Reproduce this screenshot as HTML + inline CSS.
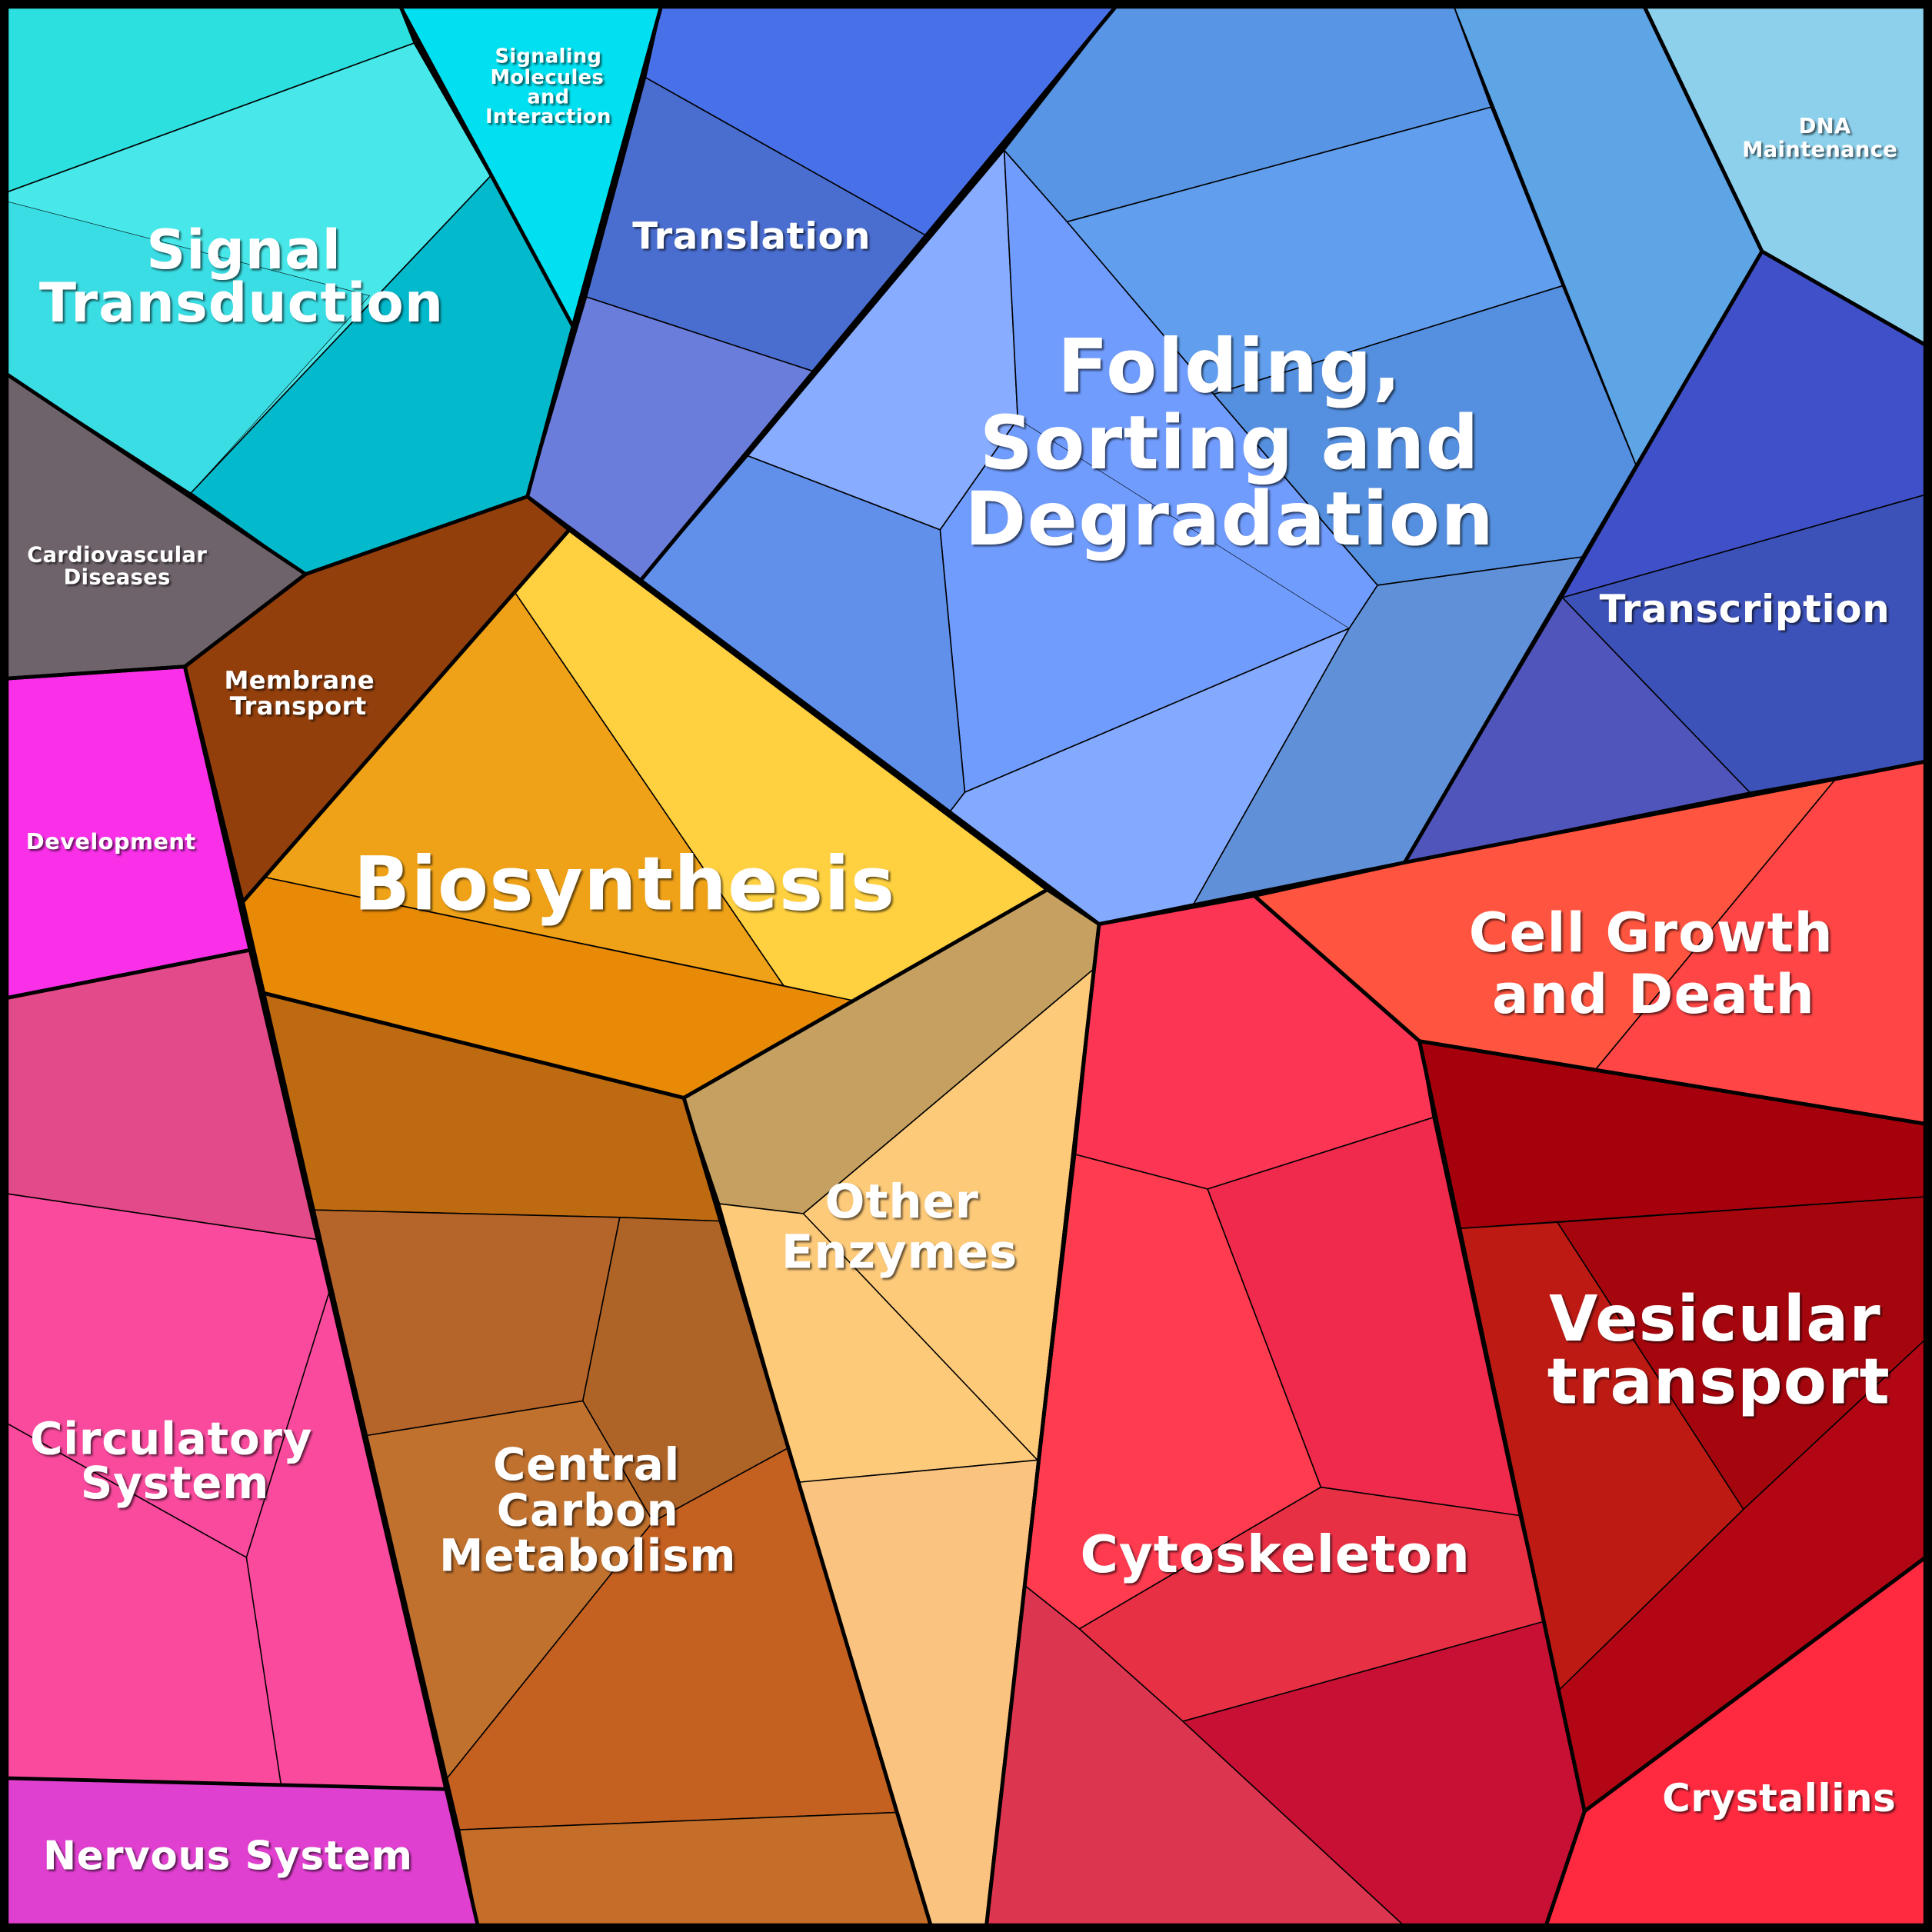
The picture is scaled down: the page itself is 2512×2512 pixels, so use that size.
<!DOCTYPE html>
<html><head><meta charset="utf-8"><style>
html,body{margin:0;padding:0;background:#000}
svg{display:block}
text{font-family:"DejaVu Sans","Liberation Sans",sans-serif;font-weight:bold;text-anchor:middle;fill:#fff;letter-spacing:0.015em}
</style></head><body>
<svg width="2512" height="2512" viewBox="0 0 1568 1568" xmlns="http://www.w3.org/2000/svg">
<defs><filter id="ds" x="-10%" y="-10%" width="120%" height="130%"><feDropShadow dx="1.5" dy="1.5" stdDeviation="0.8" flood-color="#000" flood-opacity="0.6"/></filter></defs>
<g stroke="#000" stroke-width="1" stroke-linejoin="round">
<polygon fill="#2ce0e0" points="0,0 322,0 336,35 0,158"/>
<polygon fill="#48e8ea" points="0,158 336,35 398,143 155,400 0,300"/>
<polygon fill="#3adde4" points="0,162 300,240 155,400 0,300" stroke-width="0.4"/>
<polygon fill="#03b9cc" points="398,143 465,265 428,403 248,466 155,400"/>
<polygon fill="#00e0f0" points="322,0 538,0 465,265"/>
<polygon fill="#6f636b" points="0,300 248,466 150,541 0,551"/>
<polygon fill="#933f0c" points="248,466 428,403 462,430 197,732 150,541"/>
<polygon fill="#f930e8" points="0,551 150,541 203,771 0,811"/>
<polygon fill="#e34a8a" points="0,811 203,771 258,1006 0,968"/>
<polygon fill="#f94a9e" points="0,968 258,1006 362,1452 0,1443"/>
<polyline fill="none" points="268,1046 200,1264 228,1448"/>
<polyline fill="none" points="0,1152 200,1264"/>
<polygon fill="#e040d0" points="0,1443 362,1452 389,1568 0,1568"/>
<polygon fill="#ffd040" points="462,430 850,722 692,812 636,800 418,481"/>
<polygon fill="#efa218" points="418,481 636,800 215,712"/>
<polygon fill="#e88a05" points="197,732 215,712 692,812 555,891 214,806"/>
<polygon fill="#bd6a10" points="214,806 555,891 584,991 503,988 255,982"/>
<polygon fill="#b5652a" points="255,982 503,988 473,1137 298,1165"/>
<polygon fill="#ae6327" points="503,988 584,991 640,1175 530,1235 473,1137"/>
<polygon fill="#c0712e" points="298,1165 473,1137 530,1235 363,1443"/>
<polygon fill="#c46020" points="640,1175 727,1471 373,1485 363,1443 530,1235"/>
<polygon fill="#c56e2a" points="373,1485 727,1471 757,1568 389,1568"/>
<polygon fill="#c5a060" points="555,891 850,722 892,750 887,787 652,985 584,977"/>
<polygon fill="#fdca7a" points="584,977 652,985 887,787 842,1185 648,1203"/>
<polyline fill="none" points="652,985 842,1185"/>
<polygon fill="#fac480" points="648,1203 842,1185 800,1568 757,1568"/>
<polygon fill="#4870e8" points="538,0 910,0 753,192 524,63"/>
<polygon fill="#4a6ed0" points="524,63 753,192 662,302 476,241"/>
<polygon fill="#6b7ddb" points="476,241 662,302 520,471 428,403"/>
<polygon fill="#5895e5" points="815,122 910,0 1178,0 1210,87 866,180"/>
<polygon fill="#619fee" points="866,180 1210,87 1268,232 985,320"/>
<polygon fill="#5590e0" points="985,320 1268,232 1328,378 1284,452 1118,475"/>
<polygon fill="#5ea5e5" points="1178,0 1332,0 1430,204 1328,378"/>
<polygon fill="#88acff" points="607,370 815,122 826,340 763,430"/>
<polygon fill="#709cfd" points="815,122 866,180 985,320 1118,475 1095,510 783,643 763,430 826,340"/>
<polyline fill="none" stroke-width="0.4" points="826,340 1095,510"/>
<polygon fill="#6090ea" points="520,471 607,370 763,430 783,643 770,660"/>
<polygon fill="#84aaff" points="770,660 783,643 1095,510 968,735 892,750"/>
<polygon fill="#6090d8" points="1095,510 1118,475 1284,452 1140,700 968,735"/>
<polygon fill="#8cd0ec" points="1332,0 1568,0 1568,283 1430,204"/>
<polygon fill="#4050c8" points="1430,204 1568,283 1568,400 1268,485"/>
<polygon fill="#3c52b8" points="1268,485 1568,400 1568,617 1420,643"/>
<polygon fill="#5055bb" points="1268,485 1420,643 1140,700"/>
<polygon fill="#ff5540" points="1018,727 1140,700 1490,632 1295,868 1152,845"/>
<polygon fill="#ff4545" points="1490,632 1568,617 1568,913 1295,868"/>
<polygon fill="#fd3555" points="892,750 1018,727 1152,845 1163,907 980,965 873,937"/>
<polygon fill="#f02a4c" points="980,965 1163,907 1233,1230 1072,1207"/>
<polygon fill="#ff3b50" points="873,937 980,965 1072,1207 876,1322 832,1287"/>
<polygon fill="#e83045" points="876,1322 1072,1207 1233,1230 1253,1316 960,1397"/>
<polygon fill="#db3550" points="832,1287 876,1322 960,1397 1145,1568 800,1568"/>
<polygon fill="#c81034" points="960,1397 1253,1316 1286,1470 1253,1568 1145,1568"/>
<polygon fill="#a5000c" points="1152,845 1568,913 1568,971 1185,997"/>
<polygon fill="#bd1a14" points="1185,997 1264,992 1415,1225 1265,1372"/>
<polygon fill="#a5060e" points="1264,992 1568,971 1568,1082 1415,1225"/>
<polygon fill="#b30614" points="1415,1225 1568,1082 1568,1260 1286,1470 1265,1372"/>
<polygon fill="#ff2a40" points="1286,1470 1568,1260 1568,1568 1253,1568"/>
</g>
<g fill="none" stroke="#000" stroke-width="3" stroke-linejoin="round">
<polygon points="0,0 322,0 465,265 428,403 248,466 0,300" stroke-width="2"/>
<polygon points="322,0 538,0 465,265"/>
<polygon points="0,300 248,466 150,541 0,551"/>
<polygon points="248,466 428,403 462,430 197,732 150,541"/>
<polygon points="0,551 150,541 203,771 0,811"/>
<polygon points="0,811 203,771 362,1452 0,1443"/>
<polygon points="462,430 850,722 555,891 214,806 197,732"/>
<polygon points="214,806 555,891 757,1568 389,1568 362,1452"/>
<polygon points="555,891 850,722 892,750 800,1568 757,1568"/>
<polygon points="538,0 910,0 520,471 428,403 465,265"/>
<polygon points="910,0 1332,0 1430,204 1140,700 892,750 520,471"/>
<polygon points="1332,0 1568,0 1568,283 1430,204"/>
<polygon points="1430,204 1568,283 1568,617 1140,700"/>
<polygon points="1018,727 1140,700 1568,617 1568,913 1152,845"/>
<polygon points="892,750 1018,727 1152,845 1286,1470 1253,1568 800,1568"/>
<polygon points="1152,845 1568,913 1568,1260 1286,1470"/>
<polygon points="1286,1470 1568,1260 1568,1568 1253,1568"/>
</g>
<rect x="3" y="3" width="1562" height="1562" fill="none" stroke="#000" stroke-width="8"/>
<g filter="url(#ds)">
<g font-size="44"><text x="198" y="218">Signal</text><text x="196" y="261">Transduction</text></g>
<g font-size="16"><text x="445" y="51">Signaling</text><text x="444" y="68">Molecules</text><text x="445" y="84">and</text><text x="445" y="100">Interaction</text></g>
<text x="610" y="202" font-size="30">Translation</text>
<g font-size="60"><text x="998" y="318">Folding,</text><text x="998" y="380">Sorting and</text><text x="998" y="442">Degradation</text></g>
<g font-size="17"><text x="1481" y="108">DNA</text><text x="1477" y="127">Maintenance</text></g>
<text x="1416" y="505" font-size="31">Transcription</text>
<g font-size="17"><text x="95" y="456">Cardiovascular</text><text x="95" y="474">Diseases</text></g>
<g font-size="20"><text x="243" y="559">Membrane</text><text x="242" y="580">Transport</text></g>
<text x="90" y="689" font-size="18">Development</text>
<text x="507" y="738" font-size="60">Biosynthesis</text>
<g font-size="44"><text x="1340" y="772">Cell Growth</text><text x="1342" y="822">and Death</text></g>
<g font-size="38"><text x="732" y="988">Other</text><text x="730" y="1029">Enzymes</text></g>
<g font-size="51"><text x="1392" y="1088">Vesicular</text><text x="1395" y="1139">transport</text></g>
<g font-size="36"><text x="139" y="1180">Circulatory</text><text x="142" y="1216">System</text></g>
<g font-size="36"><text x="476" y="1201">Central</text><text x="477" y="1238">Carbon</text><text x="477" y="1275">Metabolism</text></g>
<text x="1035" y="1276" font-size="42">Cytoskeleton</text>
<text x="1444" y="1470" font-size="31">Crystallins</text>
<text x="185" y="1517" font-size="32">Nervous System</text>
</g>
</svg>
</body></html>
